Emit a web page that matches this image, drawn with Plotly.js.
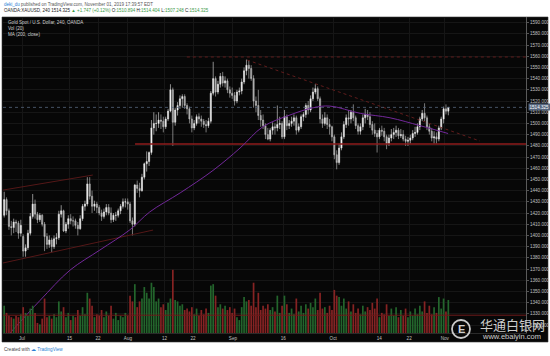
<!DOCTYPE html>
<html><head><meta charset="utf-8">
<script src="https://cdn.plot.ly/plotly-3.0.1.min.js"></script>
<style>html,body{margin:0;padding:0;background:#fff;overflow:hidden}#chart{width:550px;height:356px}</style>
</head><body><div id="chart"></div>
<script>
// half-day bars, Jun 25 .. Nov 1 2019 (two bars per trading day)
const open = [
1418,1432, 1422,1408, 1407,1412, 1411,1402,
1399,1386, 1389,1402, 1417,1428, 1419,1414, 1418,1410,
1399,1392, 1396,1390, 1397,1398, 1419,1422, 1404,1410,
1415,1413, 1413,1409, 1406,1415, 1426,1428, 1446,1435,
1426,1428, 1425,1420, 1417,1421, 1425,1420, 1414,1418,
1418,1422, 1426,1430, 1430,1428,
1413,1410, 1445,1442,
1440,1452, 1464,1466, 1474,1496, 1500,1500, 1503,1502,
1497,1504, 1511,1530, 1501,1512, 1516,1522, 1524,1516,
1513,1504, 1496,1500, 1506,1504, 1502,1499, 1498,1502,
1527,1540, 1528,1535, 1542,1536, 1538,1530, 1527,1525,
1520,1528, 1529,1537, 1547,1552, 1549,1540, 1520,1516,
1507,1503, 1498,1490, 1486,1494, 1497,1496, 1499,1500,
1488,1506, 1498,1500, 1502,1505, 1494,1497, 1506,1508,
1516,1512, 1522,1528, 1531,1522, 1504,1500, 1505,1499,
1497,1488,
1472,1465, 1478,1488, 1499,1505, 1504,1510,
1505,1498, 1493,1497, 1505,1508, 1506,1499, 1494,1491,
1488,1494, 1493,1488, 1482,1487, 1490,1492, 1494,1489,
1490,1486, 1484,1485, 1487,1491, 1492,1497, 1504,1509,
1505,1497, 1493,1487, 1488,1486, 1496,1504,
1513,1510.894];
const high = [
1439,1434, 1424,1413, 1415,1414, 1413,1414,
1401,1392, 1405,1420, 1437,1432, 1421,1420, 1419,1412,
1402,1400, 1398,1400, 1402,1422, 1427,1423, 1412,1418,
1419,1417, 1415,1412, 1418,1428, 1431,1452, 1452,1440,
1431,1430, 1427,1423, 1424,1428, 1428,1425, 1420,1421,
1424,1428, 1433,1433, 1433,1430,
1416,1446, 1449,1447,
1455,1465, 1475,1475, 1503,1510, 1508,1510, 1508,1506,
1506,1513, 1535,1532, 1514,1519, 1525,1526, 1526,1518,
1515,1507, 1503,1508, 1509,1507, 1504,1503, 1505,1529,
1555,1542, 1538,1545, 1546,1542, 1540,1533, 1532,1528,
1530,1532, 1540,1550, 1557,1556, 1552,1543, 1524,1530,
1512,1508, 1500,1496, 1496,1501, 1500,1516, 1506,1502,
1512,1508, 1503,1506, 1508,1507, 1500,1508, 1510,1518,
1520,1525, 1532,1535, 1533,1524, 1508,1510, 1508,1504,
1498,1490,
1476,1482, 1492,1502, 1508,1512, 1512,1517,
1507,1500, 1500,1508, 1513,1512, 1510,1502, 1500,1494,
1496,1498, 1496,1490, 1490,1495, 1496,1498, 1496,1495,
1494,1489, 1488,1490, 1494,1497, 1500,1506, 1512,1518,
1507,1500, 1496,1493, 1492,1498, 1506,1515,
1517,1514.404];
const low = [
1416,1418, 1405,1400, 1402,1403, 1397,1399,
1381,1381, 1387,1400, 1415,1415, 1411,1412, 1408,1386,
1388,1389, 1385,1388, 1392,1396, 1416,1403, 1402,1406,
1410,1408, 1406,1400, 1405,1413, 1422,1426, 1432,1420,
1422,1420, 1418,1413, 1415,1418, 1418,1411, 1412,1413,
1416,1419, 1424,1425, 1423,1411,
1400,1408, 1438,1434,
1439,1450, 1457,1462, 1472,1490, 1493,1496, 1495,1492,
1495,1502, 1510,1480, 1498,1507, 1513,1514, 1513,1508,
1500,1492, 1494,1498, 1500,1497, 1496,1492, 1496,1500,
1525,1524, 1526,1532, 1533,1532, 1527,1523, 1522,1516,
1518,1525, 1526,1535, 1543,1540, 1538,1514, 1510,1503,
1497,1495, 1486,1485, 1484,1490, 1490,1493, 1495,1486,
1486,1494, 1495,1497, 1498,1490, 1492,1495, 1502,1505,
1508,1510, 1520,1526, 1520,1500, 1496,1498, 1495,1490,
1484,1468,
1459,1463, 1476,1486, 1496,1498, 1500,1502,
1495,1490, 1490,1494, 1500,1503, 1496,1490, 1488,1474,
1486,1489, 1484,1477, 1480,1484, 1486,1488, 1486,1487,
1484,1480, 1480,1482, 1485,1488, 1490,1494, 1502,1502,
1494,1490, 1484,1482, 1482,1484, 1494,1500,
1508,1507.248];
const close = [
1432,1422, 1408,1407, 1412,1411, 1402,1409,
1386,1389, 1402,1417, 1428,1419, 1414,1418, 1410,1399,
1392,1396, 1390,1397, 1398,1419, 1422,1404, 1410,1415,
1413,1413, 1409,1406, 1415,1426, 1428,1446, 1435,1426,
1428,1425, 1420,1417, 1421,1425, 1420,1414, 1418,1418,
1422,1426, 1430,1430, 1428,1413,
1410,1445, 1442,1440,
1452,1464, 1466,1474, 1496,1500, 1500,1503, 1502,1497,
1504,1511, 1530,1501, 1512,1516, 1522,1524, 1516,1513,
1504,1496, 1500,1506, 1504,1502, 1499,1498, 1502,1527,
1540,1528, 1535,1542, 1536,1538, 1530,1527, 1525,1520,
1528,1529, 1537,1547, 1552,1549, 1540,1520, 1516,1507,
1503,1498, 1490,1486, 1494,1497, 1496,1499, 1500,1488,
1506,1498, 1500,1502, 1505,1494, 1497,1506, 1508,1516,
1512,1522, 1528,1531, 1522,1504, 1500,1505, 1499,1497,
1488,1472,
1465,1478, 1488,1499, 1505,1504, 1510,1505,
1498,1493, 1497,1505, 1508,1506, 1499,1494, 1491,1488,
1494,1493, 1488,1482, 1487,1490, 1492,1494, 1489,1490,
1486,1484, 1485,1487, 1491,1492, 1497,1504, 1509,1505,
1497,1493, 1487,1488, 1486,1496, 1504,1513,
1510.894,1514.325];
const volume = [
95,70, 60,55, 50,60, 55,65,
90,70, 60,85, 95,70, 35,30, 50,120,
55,60, 50,65, 55,110, 75,90, 55,70,
45,60, 55,80, 60,90, 65,140, 120,95,
55,65, 60,80, 55,75, 60,95, 50,70,
45,60, 55,70, 60,130,
110,170, 90,110,
120,160, 140,120, 175,160, 110,120, 90,100,
80,105, 120,220, 115,110, 95,100, 80,85,
75,90, 65,85, 60,80, 65,85, 70,165,
170,130, 90,100, 85,95, 80,90, 70,85,
55,45, 90,125, 110,115, 95,175, 90,140,
80,95, 85,100, 80,90, 75,130, 70,95,
130,100, 70,85, 65,120, 75,95, 70,100,
85,105, 90,120, 80,140, 85,90, 70,95,
80,150,
130,125, 95,120, 85,110, 75,100,
70,85, 65,95, 75,90, 80,105, 85,120,
55,70, 65,100, 60,85, 60,90, 55,80,
60,85, 55,75, 60,85, 65,95, 75,110,
70,95, 65,90, 70,125, 85,120,
75,115];

// MA(200, close) (trading-day index, Jul 1 = 0)
const maDay   = [-2.5, 3.8, 10.1, 16.4, 22.7, 26.9, 33.3, 40.2, 45.9, 50.7, 56.4, 61.3, 64.8, 71.2, 77.5, 83.8, 89.7];
const maValue = [1313, 1342, 1369, 1387, 1405, 1421, 1438, 1458, 1478, 1497, 1507.5, 1514, 1515.5, 1509, 1505, 1498, 1491];

// drawn lines (day index, price)
const supportDay = [23.8, 106.1],  supportPrice = [1481.6, 1481.6];
const topDay = [34.7, 106.1],      topPrice = [1559.3, 1559.3];
const trendDay = [47.4, 96.4],     trendPrice = [1556.6, 1484.3];
const chanUpDay = [-4, 14.9],      chanUpPrice = [1440.5, 1453.9];
const chanLoDay = [-4, 27.6],      chanLoPrice = [1375.4, 1404.8];
const volLevel = [62, 62];

const tickDays = [0, 10, 16, 22.3, 30, 36, 44.4, 55, 65.5, 75.2, 81.5, 89];
const tickText = ['Jul','15','22','Aug','12','22','Sep','16','Oct','14','22','Nov'];

const firstDay = -4;
const xs = open.map((_, k) => firstDay + Math.floor(k / 2) + 0.25 + 0.5 * (k % 2));
const volColors = close.map((c, k) => c >= open[k] ? '#23652c' : '#862323');
const lastClose = close[close.length - 1];
const xMin = -4, xMax = 106.1;

const F = 'Liberation Sans, Arial, sans-serif';
const green = '#3a9a48', blue = '#2a7fd4';

const traces = [
  {type:'bar', x:xs, y:volume, yaxis:'y2', marker:{color:volColors, line:{width:0}}, width:0.36, hoverinfo:'skip'},
  {type:'scatter', mode:'lines', x:[xMin, xMax], y:volLevel, yaxis:'y2', line:{color:'#6e1b1b', width:1}},
  {type:'scatter', mode:'lines', x:chanUpDay, y:chanUpPrice, line:{color:'#5e1a1a', width:0.9}},
  {type:'scatter', mode:'lines', x:chanLoDay, y:chanLoPrice, line:{color:'#5e1a1a', width:0.9}},
  {type:'scatter', mode:'lines', x:topDay, y:topPrice, line:{color:'#6a1e1e', width:0.9, dash:'dot'}},
  {type:'scatter', mode:'lines', x:trendDay, y:trendPrice, line:{color:'#6a1e1e', width:0.9, dash:'dot'}},
  {type:'scatter', mode:'lines', x:supportDay, y:supportPrice, line:{color:'#8f1d1d', width:1.4}},
  {type:'scatter', mode:'lines', x:[xMin, xMax], y:[lastClose, lastClose], line:{color:'#55657c', width:0.8, dash:'dot'}},
  {type:'scatter', mode:'lines', x:maDay, y:maValue, line:{color:'#72289a', width:1, shape:'spline'}},
  {type:'candlestick', x:xs, open:open, high:high, low:low, close:close,
   increasing:{line:{color:'#e6e6e6', width:0.6}, fillcolor:'#ffffff'},
   decreasing:{line:{color:'#c4c4c4', width:0.6}, fillcolor:'#9a9a9a'},
   whiskerwidth:0, hoverinfo:'skip'}
];

const px = v => (v - 3) / 523;         // pixel x -> paper
const py = v => (333 - v) / 316;       // pixel y -> paper

const layout = {
  width:550, height:356,
  margin:{l:3, r:24, t:17, b:23, pad:0},
  paper_bgcolor:'#ffffff', plot_bgcolor:'#070707',
  showlegend:false, dragmode:false,
  font:{family:F, size:4.6, color:'#b8b8b8'},
  xaxis:{range:[xMin, xMax], tickvals:tickDays, ticktext:tickText, rangeslider:{visible:false},
         showgrid:true, gridcolor:'#161616', gridwidth:1, zeroline:false, ticks:'', ticklen:0,
         showline:true, linecolor:'#2a2a2a', tickfont:{family:F, size:4.6, color:'#c0c0c0'}, fixedrange:true},
  yaxis:{range:[1312.9, 1595], side:'right', tick0:1320, dtick:10, tickformat:'.3f',
         showgrid:true, gridcolor:'#161616', zeroline:false, ticks:'outside', ticklen:2, tickcolor:'#555',
         showline:true, linecolor:'#5a5a5a', tickfont:{family:F, size:4.6, color:'#c0c0c0'}, fixedrange:true},
  yaxis2:{range:[0, 1100], overlaying:'y', visible:false, fixedrange:true},
  shapes:[
    {type:'rect', xref:'paper', yref:'paper', x0:px(2), x1:px(548), y0:py(342), y1:py(17),
     fillcolor:'#070707', line:{color:'#3a3a3a', width:0.6}, layer:'below'},
    {type:'circle', xref:'paper', yref:'paper', x0:px(452), x1:px(470), y0:py(338), y1:py(320),
     line:{color:'rgba(235,235,235,0.85)', width:1.8}}
  ],
  annotations:[
    {xref:'paper', yref:'paper', x:px(2), y:py(4), xanchor:'left', yanchor:'middle', showarrow:false,
     font:{family:F, size:4.5, color:'#555'},
     text:'<span style="color:'+blue+'">deki_du</span> published on TradingView.com, November 01, 2019 17:39:57 EDT'},
    {xref:'paper', yref:'paper', x:px(2), y:py(10.5), xanchor:'left', yanchor:'middle', showarrow:false,
     font:{family:F, size:4.5, color:'#222'},
     text:'OANDA:XAUUSD, 240 1514.325 <span style="color:'+green+'">▲ +1.747 (+0.12%)</span> O:<span style="color:'+green+'">1510.894</span> H:<span style="color:'+green+'">1514.404</span> L:<span style="color:'+green+'">1507.248</span> C:<span style="color:'+green+'">1514.325</span>'},
    {xref:'paper', yref:'paper', x:px(6), y:py(23), xanchor:'left', yanchor:'middle', showarrow:false,
     font:{family:F, size:4.6, color:'#d0d0d0'}, text:'Gold Spot / U.S. Dollar, 240, OANDA'},
    {xref:'paper', yref:'paper', x:px(6), y:py(29), xanchor:'left', yanchor:'middle', showarrow:false,
     font:{family:F, size:4.6, color:'#d0d0d0'}, text:'Vol (20)'},
    {xref:'paper', yref:'paper', x:px(6), y:py(35), xanchor:'left', yanchor:'middle', showarrow:false,
     font:{family:F, size:4.6, color:'#d0d0d0'}, text:'MA (200, close)'},
    {xref:'paper', yref:'y', x:1.003, y:lastClose, xanchor:'left', yanchor:'middle', showarrow:false,
     bgcolor:'#56667e', borderpad:0.5, font:{family:F, size:4.6, color:'#ffffff'}, text:lastClose.toFixed(3)},
    {xref:'paper', yref:'paper', x:px(2), y:py(349), xanchor:'left', yanchor:'middle', showarrow:false,
     font:{family:F, size:4.6, color:'#444'},
     text:'Created with <span style="color:'+blue+'">☁ TradingView</span>'},
    {xref:'paper', yref:'paper', x:px(512), y:py(324), xanchor:'center', yanchor:'middle', showarrow:false,
     font:{family:'Noto Sans CJK SC, sans-serif', size:13, color:'rgba(235,235,235,0.88)'}, text:'华通白银网'},
    {xref:'paper', yref:'paper', x:px(511), y:py(336), xanchor:'center', yanchor:'middle', showarrow:false,
     font:{family:F, size:7.5, color:'rgba(235,235,235,0.88)'}, text:'www.ebaiyin.com'},
    {xref:'paper', yref:'paper', x:px(461), y:py(329), xanchor:'center', yanchor:'middle', showarrow:false,
     font:{family:F, size:11, color:'rgba(235,235,235,0.9)'}, text:'<b>E</b>'}
  ]
};

Plotly.newPlot('chart', traces, layout, {staticPlot:true, displayModeBar:false});
</script>
</body></html>
